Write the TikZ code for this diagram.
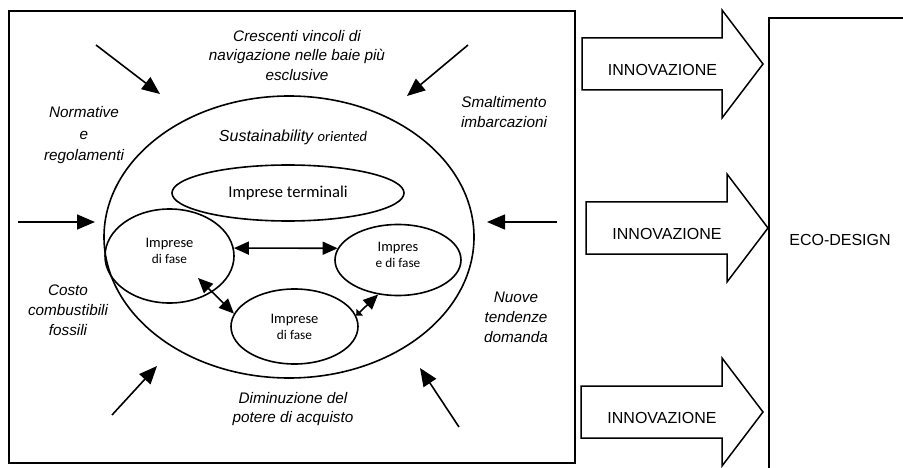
\documentclass[tikz,border=0pt]{standalone}
\usepackage{fontspec}
\setmainfont{Liberation Sans}
\newfontfamily\calibri{Carlito}
\usetikzlibrary{arrows.meta,shapes.geometric}

\begin{document}
\begin{tikzpicture}[x=1pt,y=-1pt,
    driver/.style={font=\fontsize{15.3}{20}\selectfont\itshape, align=center, inner sep=0pt},
    firm/.style={draw, ellipse, line width=1.6pt, inner sep=0pt, align=center,
      font=\calibri\fontsize{14.5}{16}\selectfont},
    push/.style={-{Triangle[length=18pt,width=15pt]}, line width=1.6pt},
    link/.style={{Triangle[length=15pt,width=13pt]}-{Triangle[length=15pt,width=13pt]}, line width=1.6pt},
    block/.style={line width=1.5pt}]
  \useasboundingbox (0,0) rectangle (903,468);

  % context box
  \draw[line width=1.8pt] (9,11) rectangle (575,463);

  % sector
  \node[firm, minimum width=370pt, minimum height=282pt] (market) at (289,237) {};
  \node[inner sep=0pt] (sustain) at (293,137)
    {\fontsize{16}{19}\selectfont\itshape Sustainability {\calibri\fontsize{14.6}{19}\selectfont oriented}};
  \node[firm, minimum width=232pt, minimum height=56pt, font=\calibri\fontsize{16.6}{19}\selectfont]
    (terminali) at (288,193) {Imprese terminali};
  \node[firm, minimum width=129pt, minimum height=94pt, text depth=10pt] (lfase) at (169.5,256)
    {Imprese\\{\fontsize{13.3}{16}\selectfont di fase}};
  \node[firm, minimum width=126pt, minimum height=71pt, text depth=10pt] (rfase) at (398,260)
    {Impres\\{\fontsize{13.3}{16}\selectfont e di fase}};
  \node[firm, minimum width=127pt, minimum height=75pt] (bfase) at (294.5,326.5)
    {Imprese\\{\fontsize{13.3}{16}\selectfont di fase}};

  \coordinate (lfaseIn) at (198,278);
  \begin{scope}[link]
    \draw (lfase.7) to (rfase.169);
    \draw (lfaseIn) to (bfase.168);
  \end{scope}
  \draw[{Triangle[length=5pt,width=9pt]}-{Triangle[length=15pt,width=13pt]}, line width=1.6pt]
    (bfase.10) to (rfase.240);

  % external drivers
  \node[driver, font=\fontsize{15.3}{19.5}\selectfont\itshape] (crescenti) at (297,55.5)
    {Crescenti vincoli di\\navigazione nelle baie più\\esclusive};
  \node[driver, font=\fontsize{15.3}{21.5}\selectfont\itshape] (normative) at (84,135.5)
    {Normative\\e\\regolamenti};
  \node[driver, font=\fontsize{15.3}{20}\selectfont\itshape] (smaltimento) at (504,112)
    {Smaltimento\\imbarcazioni};
  \node[driver] (costo) at (68,310)
    {Costo\\combustibili\\fossili};
  \node[driver] (nuove) at (516,317)
    {Nuove\\tendenze\\domanda};
  \node[driver, font=\fontsize{15.3}{19}\selectfont\itshape] (diminuzione) at (293,409)
    {Diminuzione del\\potere di acquisto};

  \coordinate (nwFrom) at (96,45);   \coordinate (nwTo) at (160,94);
  \coordinate (neFrom) at (468,45);  \coordinate (neTo) at (407,96);
  \coordinate (wFrom) at (18,222);   \coordinate (wTo) at (95,222);
  \coordinate (eFrom) at (557,222);  \coordinate (eTo) at (487,222);
  \coordinate (swFrom) at (112,415); \coordinate (swTo) at (157,366);
  \coordinate (seFrom) at (459,427); \coordinate (seTo) at (420,368);
  \begin{scope}[push]
    \draw (nwFrom) to (nwTo);
    \draw (neFrom) to (neTo);
    \draw (wFrom) to (wTo);
    \draw (eFrom) to (eTo);
    \draw (swFrom) to (swTo);
    \draw (seFrom) to (seTo);
  \end{scope}

  % innovation arrows
  \foreach \tx/\hx/\ym/\nm in {582/763/64/innoA,586/768/228/innoB,581/763/412/innoC}{
    \draw[block] (\tx,\ym-26) -- (\hx-41,\ym-26) -- (\hx-41,\ym-54) -- (\hx,\ym)
      -- (\hx-41,\ym+54) -- (\hx-41,\ym+26) -- (\tx,\ym+26) -- cycle;
    \node[font=\fontsize{16}{19}\selectfont] (\nm) at (\tx/2+\hx/2-10,\ym+6) {INNOVAZIONE};
  }

  % eco-design
  \node[draw, line width=1.8pt, anchor=north west, minimum width=150pt, minimum height=470pt]
    (ecobox) at (768,17) {};
  \node[font=\fontsize{16}{19}\selectfont] (eco) at (840,240) {ECO-DESIGN};
\end{tikzpicture}
\end{document}
